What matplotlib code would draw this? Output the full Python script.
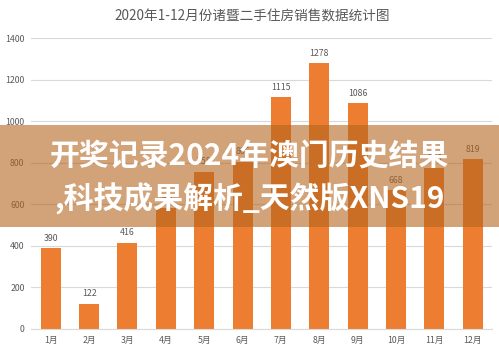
import matplotlib
matplotlib.use("Agg")
import matplotlib.pyplot as plt
from matplotlib.patches import Rectangle

plt.rcParams['font.family'] = ['Noto Sans CJK SC', 'DejaVu Sans']

months = ["1月", "2月", "3月", "4月", "5月", "6月", "7月", "8月", "9月", "10月", "11月", "12月"]
sales = [390, 122, 416, 580, 758, 806, 1115, 1278, 1086, 668, 776, 819]
yticks = [0, 200, 400, 600, 800, 1000, 1200, 1400]
title = "2020年1-12月份诸暨二手住房销售数据统计图"
banner_lines = ["开奖记录2024年澳门历史结果", ",科技成果解析_天然版XNS19"]

fig = plt.figure(figsize=(4.99, 3.53), dpi=100)
ax = fig.add_axes([0.063, 0.068, 0.923, 0.824])
x = range(len(months))
bars = ax.bar(x, sales, width=0.52, color="#ED7D31", zorder=2)
for xi, v in zip(x, sales):
    ax.text(xi, v + 25, str(v), ha="center", va="bottom", fontsize=6.3, color="#595959")

ax.set_xlim(-0.5, len(months) - 0.5)
ax.set_ylim(0, 1400)
ax.set_yticks(yticks)
ax.set_xticks(list(x))
ax.set_xticklabels(months)
ax.tick_params(axis="both", length=0, labelsize=6.3, labelcolor="#595959", pad=5)
ax.grid(axis="y", color="#D9D9D9", linewidth=0.8, zorder=0)
for s in ax.spines.values():
    s.set_visible(False)
ax.spines["bottom"].set_visible(True)
ax.spines["bottom"].set_color("#D9D9D9")

fig.text(0.505, 0.953, title, ha="center", va="center", fontsize=9.8, color="#595959")

# overlay banner
fig.patches.append(Rectangle((0, (353 - 227) / 353), 1, 102 / 353, transform=fig.transFigure,
                             facecolor=(180 / 255, 100 / 255, 30 / 255), alpha=0.6, zorder=10,
                             edgecolor="none"))
fig.text(0.5, (353 - 156) / 353, banner_lines[0], ha="center", va="center", fontsize=21.5,
         fontweight="heavy", color="white", zorder=11)
fig.text(0.5, (353 - 199) / 353, banner_lines[1], ha="center", va="center", fontsize=21.5,
         fontweight="heavy", color="white", zorder=11)

fig.savefig("out.png", dpi=100)
